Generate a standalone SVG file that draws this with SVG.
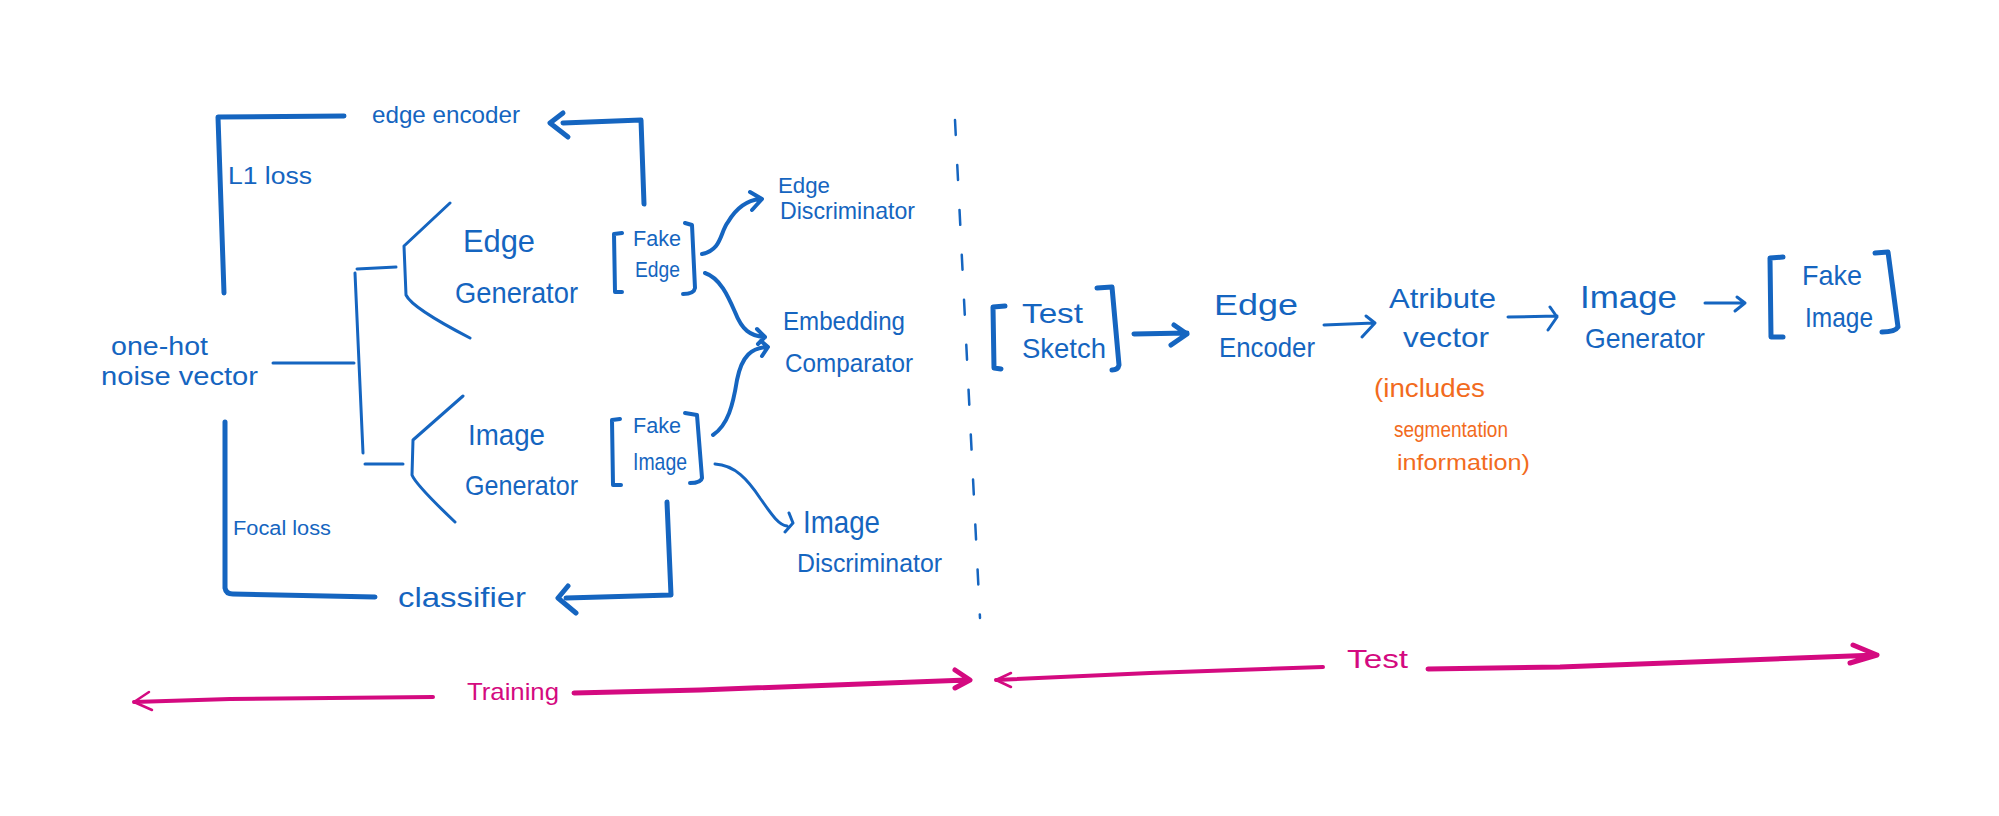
<svg xmlns="http://www.w3.org/2000/svg" width="1999" height="816" viewBox="0 0 1999 816">
<style>
.t{font-family:"Liberation Sans","DejaVu Sans",sans-serif;fill:#1565C0}
.o{font-family:"Liberation Sans","DejaVu Sans",sans-serif;fill:#F26B1D}
.m{font-family:"Liberation Sans","DejaVu Sans",sans-serif;fill:#D40A80}
.b{fill:none;stroke:#1565C0;stroke-linecap:round;stroke-linejoin:round}
.k{stroke-width:5}
.n{stroke-width:3}
.br{stroke-width:4}
.p{fill:none;stroke:#D40A80;stroke-linecap:round;stroke-linejoin:round}
</style>
<rect width="1999" height="816" fill="#ffffff"/>

<g id="edge-encoder-train">
<text class="t" x="372" y="123" font-size="24" textLength="148" lengthAdjust="spacingAndGlyphs">edge encoder</text>
</g>
<g id="l1-loss">
<text class="t" x="228" y="184" font-size="23" textLength="84" lengthAdjust="spacingAndGlyphs">L1 loss</text>
</g>
<g id="noise-vector">
<text class="t" x="111" y="355" font-size="25" textLength="97" lengthAdjust="spacingAndGlyphs">one-hot</text>
<text class="t" x="101" y="385" font-size="25" textLength="157" lengthAdjust="spacingAndGlyphs">noise vector</text>
</g>
<g id="edge-generator">
<text class="t" x="463" y="252" font-size="32" textLength="72" lengthAdjust="spacingAndGlyphs">Edge</text>
<text class="t" x="455" y="303" font-size="30" textLength="123" lengthAdjust="spacingAndGlyphs">Generator</text>
</g>
<g id="image-generator">
<text class="t" x="468" y="445" font-size="30" textLength="77" lengthAdjust="spacingAndGlyphs">Image</text>
<text class="t" x="465" y="495" font-size="28" textLength="113" lengthAdjust="spacingAndGlyphs">Generator</text>
</g>
<g id="fake-edge">
<path class="b br" d="M622,233 L614,234 L615,292 L622,292 M685,223 L692,225 L695,288 Q694,294 683,294"/>
<text class="t" x="633" y="246" font-size="22" textLength="48" lengthAdjust="spacingAndGlyphs">Fake</text>
<text class="t" x="635" y="277" font-size="22" textLength="45" lengthAdjust="spacingAndGlyphs">Edge</text>
</g>
<g id="fake-image">
<path class="b br" d="M620,419 L612,420 L613,485 L621,485 M685,413 L697,415 L702,478 Q701,483 690,483"/>
<text class="t" x="633" y="433" font-size="22" textLength="48" lengthAdjust="spacingAndGlyphs">Fake</text>
<text class="t" x="633" y="470" font-size="24" textLength="54" lengthAdjust="spacingAndGlyphs">Image</text>
</g>
<g id="edge-discriminator">
<text class="t" x="778" y="193" font-size="22" textLength="52" lengthAdjust="spacingAndGlyphs">Edge</text>
<text class="t" x="780" y="219" font-size="24" textLength="135" lengthAdjust="spacingAndGlyphs">Discriminator</text>
</g>
<g id="embedding-comparator">
<text class="t" x="783" y="330" font-size="26" textLength="122" lengthAdjust="spacingAndGlyphs">Embedding</text>
<text class="t" x="785" y="372" font-size="26" textLength="128" lengthAdjust="spacingAndGlyphs">Comparator</text>
</g>
<g id="image-discriminator">
<text class="t" x="803" y="533" font-size="32" textLength="77" lengthAdjust="spacingAndGlyphs">Image</text>
<text class="t" x="797" y="572" font-size="26" textLength="145" lengthAdjust="spacingAndGlyphs">Discriminator</text>
</g>
<g id="focal-loss">
<text class="t" x="233" y="535" font-size="20" textLength="98" lengthAdjust="spacingAndGlyphs">Focal loss</text>
</g>
<g id="classifier">
<text class="t" x="398" y="607" font-size="28" textLength="128" lengthAdjust="spacingAndGlyphs">classifier</text>
</g>

<g id="test-sketch">
<path class="b k" d="M1005,306 L993,307 L994,368 L1001,369 M1097,288 L1112,287 L1119,365 Q1118,370 1112,370"/>
<text class="t" x="1022" y="323" font-size="28" textLength="61" lengthAdjust="spacingAndGlyphs">Test</text>
<text class="t" x="1022" y="358" font-size="28" textLength="84" lengthAdjust="spacingAndGlyphs">Sketch</text>
</g>
<g id="edge-encoder-test">
<text class="t" x="1214" y="315" font-size="30" textLength="84" lengthAdjust="spacingAndGlyphs">Edge</text>
<text class="t" x="1219" y="357" font-size="28" textLength="96" lengthAdjust="spacingAndGlyphs">Encoder</text>
</g>
<g id="attribute-vector">
<text class="t" x="1389" y="308" font-size="28" textLength="107" lengthAdjust="spacingAndGlyphs">Atribute</text>
<text class="t" x="1403" y="347" font-size="28" textLength="86" lengthAdjust="spacingAndGlyphs">vector</text>
<text class="o" x="1374" y="397" font-size="25" textLength="111" lengthAdjust="spacingAndGlyphs">(includes</text>
<text class="o" x="1394" y="437" font-size="22" textLength="114" lengthAdjust="spacingAndGlyphs">segmentation</text>
<text class="o" x="1397" y="470" font-size="22" textLength="133" lengthAdjust="spacingAndGlyphs">information)</text>
</g>
<g id="image-generator-test">
<text class="t" x="1580" y="308" font-size="32" textLength="97" lengthAdjust="spacingAndGlyphs">Image</text>
<text class="t" x="1585" y="348" font-size="28" textLength="120" lengthAdjust="spacingAndGlyphs">Generator</text>
</g>
<g id="fake-image-test">
<path class="b k" d="M1783,257 L1770,258 L1771,337 L1783,337 M1875,253 L1888,252 L1898,327 Q1895,332 1882,332"/>
<text class="t" x="1802" y="285" font-size="28" textLength="60" lengthAdjust="spacingAndGlyphs">Fake</text>
<text class="t" x="1805" y="327" font-size="28" textLength="68" lengthAdjust="spacingAndGlyphs">Image</text>
</g>
<g id="phase-labels">
<text class="m" x="467" y="700" font-size="24" textLength="92" lengthAdjust="spacingAndGlyphs">Training</text>
<text class="m" x="1347" y="668" font-size="26" textLength="61" lengthAdjust="spacingAndGlyphs">Test</text>
</g>

<g id="connectors">
<path class="b k" d="M344,116 L218,117 L224,293"/>
<path class="b k" d="M644,204 L641,120 L563,123 M563,113 L550,123 L568,137"/>
<path class="b k" d="M225,422 L225,588 Q226,594 233,594 L375,597"/>
<path class="b k" d="M667,502 L671,595 L566,598 M568,586 L558,598 L576,613"/>
<path class="b n" d="M273,363 L354,363"/>
<path class="b n" d="M355,273 L363,453"/>
<path class="b n" d="M357,269 L396,267"/>
<path class="b n" d="M365,464 L403,464"/>
<path class="b n" d="M450,203 L404,246 L406,295 Q412,308 470,338"/>
<path class="b n" d="M463,396 L413,440 L412,475 Q416,485 455,522"/>
<path class="b br" d="M702,254 C722,250 720,232 728,222 C738,205 750,200 760,199 M750,192 L762,199 L752,210"/>
<path class="b br" d="M705,273 C720,278 728,296 735,312 C742,330 750,336 765,337 M757,329 L765,337 L758,344"/>
<path class="b br" d="M713,435 C728,425 733,405 737,380 C742,355 752,348 767,347 M761,341 L768,347 L762,356"/>
<path class="b n" d="M715,464 C735,465 748,480 760,498 C770,512 778,525 787,526 M789,513 L793,523 L785,532"/>
<path class="b" stroke-width="2.5" stroke-dasharray="15 30" d="M955,120 L980,618"/>
<path class="b k" d="M1134,334 L1187,333 M1174,325 L1187,334 L1171,345"/>
<path class="b n" d="M1324,325 L1374,323 M1366,316 L1375,323 L1362,337"/>
<path class="b n" d="M1508,317 L1557,316 M1550,307 L1557,317 L1548,330"/>
<path class="b n" d="M1705,303 L1745,303 M1737,297 L1745,303 L1735,311"/>
<path class="p" stroke-width="4" d="M134,702 L230,699 L433,697"/>
<path class="p" stroke-width="2.5" d="M149,692 L134,702 L152,710"/>
<path class="p" stroke-width="5" d="M574,693 L700,690 L967,680 M955,670 L970,680 L955,688"/>
<path class="p" stroke-width="4" d="M996,680 L1150,673 L1323,667"/>
<path class="p" stroke-width="2.5" d="M1011,673 L996,680 L1011,687"/>
<path class="p" stroke-width="5" d="M1428,669 L1560,667 L1877,655 M1853,645 L1877,655 L1850,663"/>
</g>
</svg>
